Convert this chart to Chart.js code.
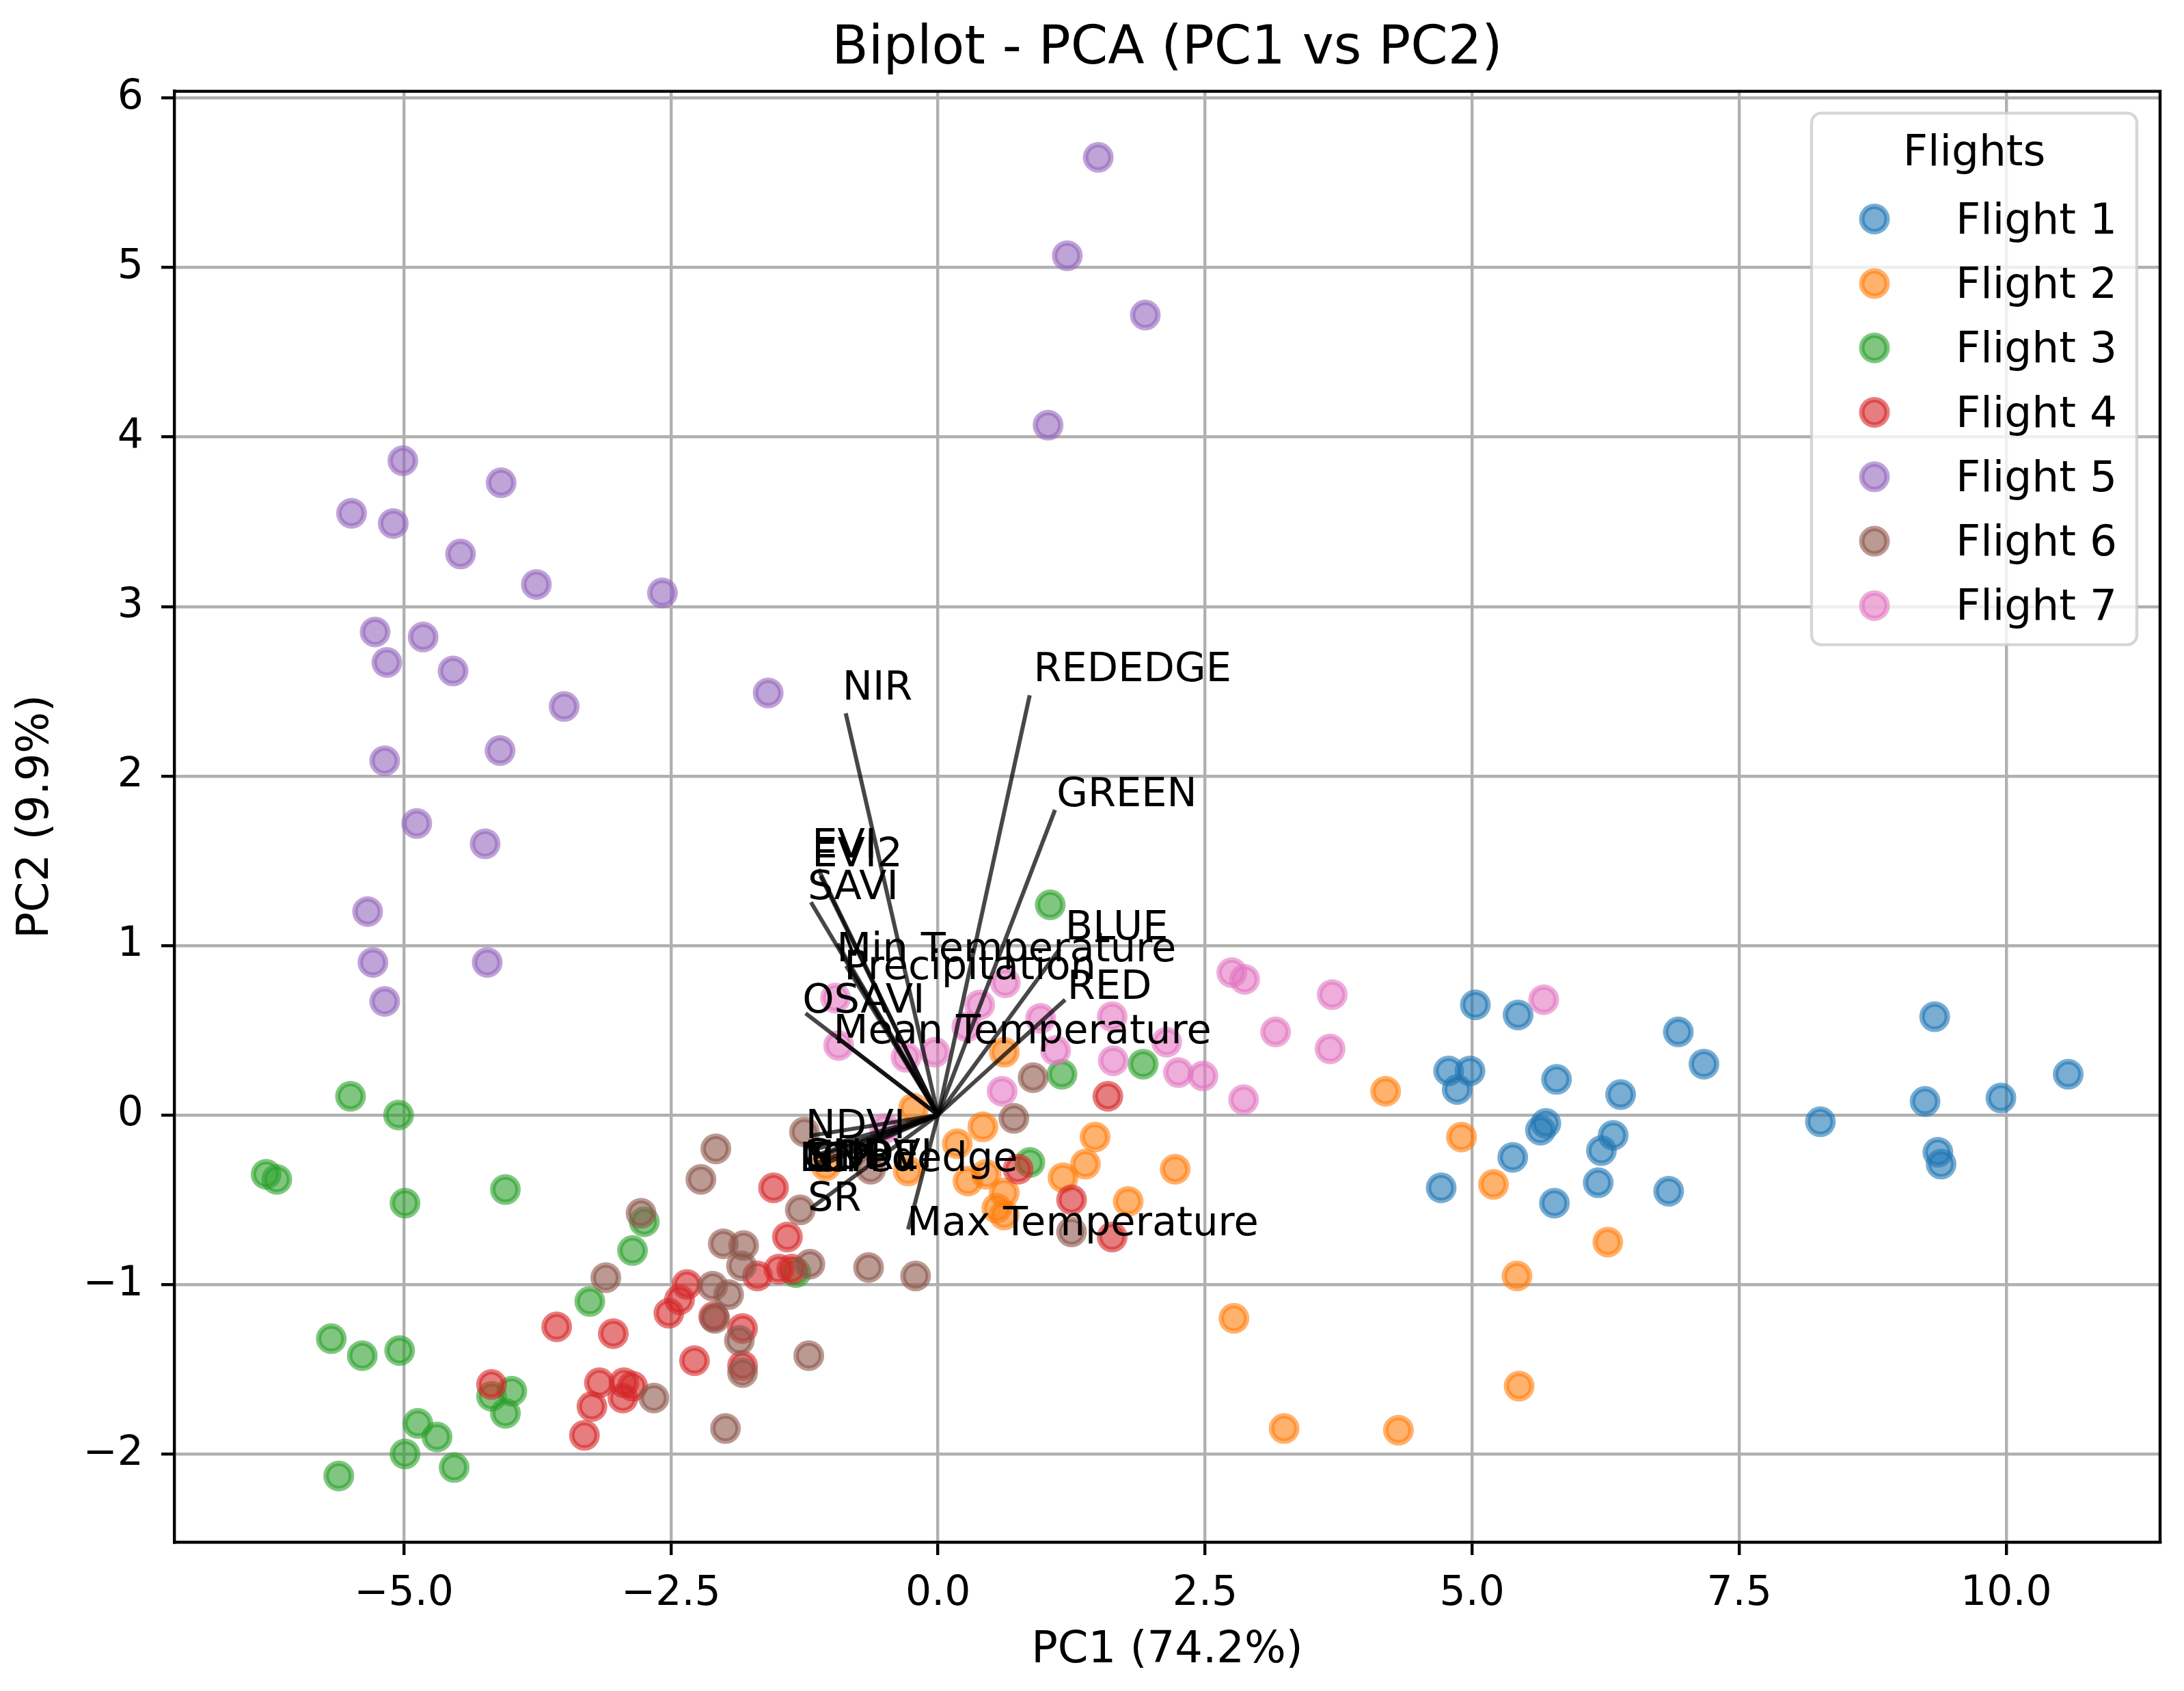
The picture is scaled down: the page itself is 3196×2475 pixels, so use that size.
<!DOCTYPE html>
<html>
<head>
<meta charset="utf-8">
<title>Biplot - PCA</title>
<script src="https://cdn.jsdelivr.net/npm/chart.js@4.4.0/dist/chart.umd.min.js"></script>
<style>
  html, body { margin: 0; padding: 0; background: #fff; }
  #wrap { width: 3196px; height: 2475px; }
</style>
</head>
<body>
<div id="wrap"><canvas id="biplot" width="3196" height="2475"></canvas></div>
<script>
// scores per flight, [PC1, PC2]
const flight1 = [[5.03,0.65],[5.43,0.59],[6.93,0.49],[7.17,0.30],[4.78,0.26],[4.98,0.26],[4.86,0.15],[5.79,0.21],[6.39,0.12],[5.69,-0.05],[5.64,-0.09],[6.32,-0.12],[6.21,-0.21],[5.38,-0.25],[4.71,-0.43],[6.18,-0.40],[5.77,-0.52],[6.84,-0.45],[8.26,-0.04],[9.33,0.58],[9.24,0.08],[9.95,0.10],[10.58,0.24],[9.36,-0.22],[9.39,-0.29]];
const flight2 = [[-0.23,0.04],[0.42,-0.07],[0.18,-0.17],[0.28,-0.39],[0.45,-0.35],[0.62,-0.46],[0.62,-0.59],[0.55,-0.55],[-0.28,-0.33],[-1.05,-0.30],[0.62,0.37],[1.47,-0.13],[1.38,-0.29],[1.17,-0.37],[2.22,-0.32],[1.78,-0.51],[4.19,0.14],[4.90,-0.13],[5.20,-0.41],[6.27,-0.75],[5.42,-0.95],[5.44,-1.60],[2.77,-1.20],[3.24,-1.85],[4.31,-1.86]];
const flight3 = [[-5.50,0.11],[-5.05,0.00],[-6.29,-0.35],[-6.19,-0.38],[-4.99,-0.52],[-4.05,-0.44],[-2.75,-0.63],[-2.86,-0.80],[-3.26,-1.10],[-5.68,-1.32],[-5.39,-1.42],[-5.04,-1.39],[-4.18,-1.66],[-3.99,-1.63],[-4.05,-1.76],[-4.87,-1.82],[-4.69,-1.90],[-4.99,-2.00],[-4.53,-2.08],[-5.61,-2.13],[-1.33,-0.93],[0.86,-0.28],[1.16,0.24],[1.92,0.30],[1.05,1.24]];
const flight4 = [[-4.18,-1.59],[-3.57,-1.25],[-3.04,-1.29],[-3.17,-1.58],[-3.24,-1.72],[-2.94,-1.58],[-2.95,-1.67],[-2.86,-1.60],[-3.31,-1.89],[-2.35,-1.00],[-2.42,-1.09],[-2.52,-1.17],[-2.28,-1.45],[-2.10,-1.19],[-1.83,-1.26],[-1.83,-1.48],[-1.54,-0.43],[-1.41,-0.72],[-1.49,-0.91],[-1.37,-0.91],[-1.69,-0.95],[1.59,0.11],[0.75,-0.32],[1.25,-0.50],[1.63,-0.72]];
const flight5 = [[1.50,5.65],[1.21,5.07],[1.94,4.72],[1.03,4.07],[-5.01,3.86],[-4.09,3.73],[-5.49,3.55],[-5.10,3.49],[-4.47,3.31],[-3.76,3.13],[-2.58,3.08],[-5.27,2.85],[-4.82,2.82],[-5.16,2.67],[-4.54,2.62],[-1.59,2.49],[-3.50,2.41],[-4.10,2.15],[-5.18,2.09],[-4.88,1.72],[-4.24,1.60],[-5.34,1.20],[-5.29,0.90],[-4.22,0.90],[-5.18,0.67]];
const flight6 = [[-2.08,-0.20],[-2.22,-0.38],[-2.78,-0.58],[-3.11,-0.96],[-2.01,-0.76],[-1.82,-0.77],[-1.84,-0.89],[-2.11,-1.01],[-1.96,-1.06],[-2.09,-1.20],[-1.86,-1.33],[-1.83,-1.52],[-2.66,-1.67],[-1.99,-1.85],[-1.25,-0.10],[-0.63,-0.32],[-1.29,-0.56],[-1.20,-0.88],[-0.65,-0.90],[-0.21,-0.95],[-1.21,-1.42],[0.89,0.22],[0.71,-0.02],[1.25,-0.69]];
const flight7 = [[-0.96,0.69],[-0.93,0.41],[-0.30,0.34],[-0.03,0.37],[0.39,0.65],[0.63,0.78],[0.27,0.52],[0.96,0.57],[1.10,0.38],[1.63,0.58],[1.64,0.32],[2.14,0.43],[2.25,0.25],[2.48,0.23],[2.75,0.84],[2.87,0.80],[3.16,0.49],[3.69,0.71],[3.67,0.39],[2.86,0.09],[0.60,0.14],[5.67,0.68],[-0.50,-0.08]];

const flightNames = ['Flight 1','Flight 2','Flight 3','Flight 4','Flight 5','Flight 6','Flight 7'];
const flightPoints = [flight1, flight2, flight3, flight4, flight5, flight6, flight7];
const flightColors = ['31,119,180','255,127,14','44,160,44','214,39,40','148,103,189','140,86,75','227,119,194'];

// loading vectors and where their labels sit
const loadingNames = ['NIR','REDEDGE','GREEN','BLUE','RED','EVI','EVI2','SAVI','Min Temperature','Precipitation','OSAVI','Mean Temperature','NDVI','GNDVI','NDRE','SIPI','LCI','CIrededge','SR','Max Temperature'];
const loadingX = [-0.864, 0.858, 1.095, 1.14, 1.19, -1.12, -1.10, -1.19, -0.94, -0.86, -1.24, -0.95, -1.17, -1.19, -1.14, -1.10, -1.12, -1.14, -1.19, -0.28];
const loadingY = [2.37, 2.476, 1.80, 0.98, 0.68, 1.45, 1.41, 1.255, 1.01, 0.88, 0.60, 0.46, -0.12, -0.21, -0.25, -0.23, -0.28, -0.31, -0.55, -0.675];
const labelX = [-0.895, 0.895, 1.11, 1.19, 1.21, -1.18, -1.18, -1.22, -0.95, -0.88, -1.27, -0.98, -1.24, -1.28, -1.25, -1.22, -1.30, -1.19, -1.22, -0.29];
const labelY = [2.452, 2.561, 1.823, 1.036, 0.685, 1.521, 1.468, 1.272, 0.907, 0.80, 0.605, 0.423, -0.137, -0.31, -0.32, -0.33, -0.33, -0.33, -0.565, -0.71];

const xTicks = [-5, -2.5, 0, 2.5, 5, 7.5, 10];
const yTicks = [-2, -1, 0, 1, 2, 3, 4, 5, 6];
const xRange = [-7.15, 11.44];
const yRange = [-2.52, 6.04];

const FONT = 'DejaVu Sans';
Chart.defaults.font.family = FONT;
Chart.defaults.color = '#000';

const minus = s => s.replace('-', '\u2212');

const datasets = [];
loadingNames.forEach((name, i) => {
  datasets.push({
    label: name,
    data: [{x: 0, y: 0}, {x: loadingX[i], y: loadingY[i]}],
    showLine: true,
    borderColor: 'rgba(0,0,0,0.72)',
    borderWidth: 6,
    pointRadius: 0,
    order: 0
  });
});
flightNames.forEach((name, i) => {
  datasets.push({
    label: name,
    data: flightPoints[i].map(p => ({x: p[0], y: p[1]})),
    backgroundColor: 'rgba(' + flightColors[i] + ',0.6)',
    borderColor: 'rgba(' + flightColors[i] + ',0.6)',
    borderWidth: 8,
    pointRadius: 18.5,
    order: 7 - i
  });
});

// spines, loading labels and the legend box
const overlay = {
  id: 'overlay',
  afterDraw(chart) {
    const {ctx, chartArea: a, scales: {x, y}} = chart;
    ctx.save();
    ctx.strokeStyle = '#000';
    ctx.lineWidth = 4.4;
    ctx.beginPath();
    ctx.moveTo(a.left, a.top); ctx.lineTo(a.right, a.top); ctx.lineTo(a.right, a.bottom);
    ctx.stroke();

    ctx.font = '59px "' + FONT + '"';
    ctx.fillStyle = '#000';
    ctx.textAlign = 'left';
    ctx.textBaseline = 'alphabetic';
    loadingNames.forEach((name, i) => {
      ctx.fillText(name, x.getPixelForValue(labelX[i]), y.getPixelForValue(labelY[i]));
    });

    const lw = 476, lh = 778;
    const lx = a.right - 510, ly = a.top + 32;
    ctx.beginPath();
    ctx.roundRect(lx, ly, lw, lh, 14);
    ctx.fillStyle = 'rgba(255,255,255,0.8)';
    ctx.fill();
    ctx.strokeStyle = 'rgba(204,204,204,0.8)';
    ctx.lineWidth = 4.4;
    ctx.stroke();

    ctx.fillStyle = '#000';
    ctx.font = '63px "' + FONT + '"';
    ctx.textAlign = 'center';
    ctx.fillText('Flights', lx + lw / 2, ly + 76);
    ctx.textAlign = 'left';
    flightNames.forEach((name, i) => {
      const my = ly + 155 + i * 94.3;
      ctx.beginPath();
      ctx.arc(lx + 92, my, 18.5, 0, Math.PI * 2);
      ctx.fillStyle = 'rgba(' + flightColors[i] + ',0.6)';
      ctx.fill();
      ctx.strokeStyle = 'rgba(' + flightColors[i] + ',0.6)';
      ctx.lineWidth = 8;
      ctx.stroke();
      ctx.fillStyle = '#000';
      ctx.fillText(name, lx + 211, my + 21);
    });
    ctx.restore();
  }
};

new Chart(document.getElementById('biplot'), {
  type: 'scatter',
  data: { datasets },
  options: {
    responsive: false,
    devicePixelRatio: 1,
    animation: false,
    layout: { padding: { left: 0, right: 35, top: 0, bottom: 0 } },
    plugins: {
      legend: { display: false },
      tooltip: { enabled: false },
      title: {
        display: true,
        text: 'Biplot - PCA (PC1 vs PC2)',
        fullSize: false,
        color: '#000',
        font: { size: 78, weight: 'normal' },
        padding: { top: 26, bottom: 14 }
      }
    },
    scales: {
      x: {
        type: 'linear',
        min: xRange[0],
        max: xRange[1],
        z: 1,
        afterBuildTicks: s => { s.ticks = xTicks.map(v => ({value: v})); },
        afterFit: s => { s.height = 218; },
        ticks: {
          font: { size: 60 },
          color: '#000',
          padding: 21,
          maxRotation: 0,
          autoSkip: false,
          callback: v => minus(Number(v).toFixed(1))
        },
        grid: { color: '#b0b0b0', lineWidth: 4.4, tickColor: '#000', tickLength: 19, tickWidth: 4.4 },
        border: { display: true, color: '#000', width: 4.4 },
        title: { display: true, text: 'PC1 (74.2%)', font: { size: 64 }, color: '#000', padding: { top: 0, bottom: 20 } }
      },
      y: {
        type: 'linear',
        min: yRange[0],
        max: yRange[1],
        z: 1,
        afterBuildTicks: s => { s.ticks = yTicks.map(v => ({value: v})); },
        afterFit: s => { s.width = 255; },
        ticks: {
          font: { size: 60 },
          color: '#000',
          padding: 26,
          autoSkip: false,
          callback: v => minus(String(v))
        },
        grid: { color: '#b0b0b0', lineWidth: 4.4, tickColor: '#000', tickLength: 19, tickWidth: 4.4 },
        border: { display: true, color: '#000', width: 4.4 },
        title: { display: true, text: 'PC2 (9.9%)', font: { size: 64 }, color: '#000', padding: { top: 15, bottom: 0 } }
      }
    }
  },
  plugins: [overlay]
});
</script>
</body>
</html>
